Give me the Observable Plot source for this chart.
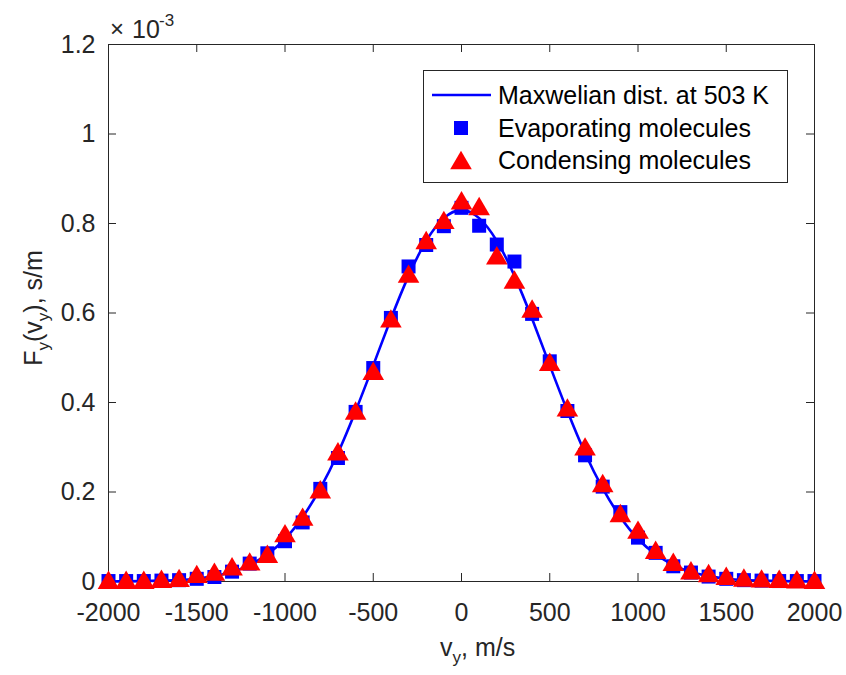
<!DOCTYPE html>
<html>
<head>
<meta charset="utf-8">
<script src="https://cdn.jsdelivr.net/npm/d3@7"></script>
<script src="https://cdn.jsdelivr.net/npm/@observablehq/plot@0.6"></script>
<style>
  html, body { margin: 0; padding: 0; background: #fff; }
  svg { display: block; }
</style>
</head>
<body>
<div id="chart"></div>
<script>
// velocity, m/s
const vy = [-2000,-1900,-1800,-1700,-1600,-1500,-1400,-1300,-1200,-1100,-1000,-900,-800,-700,-600,-500,-400,-300,-200,-100,
            0,100,200,300,400,500,600,700,800,900,1000,1100,1200,1300,1400,1500,1600,1700,1800,1900,2000];
// F_y(v_y) in units of 1e-3 s/m
const maxwell = [0.0001,0.0003,0.001,0.002,0.003,0.006,0.012,0.021,0.037,0.061,0.095,0.144,0.208,0.287,0.381,0.483,0.587,0.683,0.761,0.812,
                 0.830,0.812,0.761,0.683,0.587,0.483,0.381,0.287,0.208,0.144,0.095,0.061,0.037,0.021,0.012,0.006,0.003,0.002,0.001,0.0003,0.0001];
const evaporating = [0.001,0.001,0.001,0.002,0.003,0.006,0.010,0.022,0.040,0.063,0.090,0.132,0.207,0.276,0.379,0.477,0.589,0.704,0.752,0.794,
                     0.835,0.795,0.753,0.715,0.598,0.492,0.381,0.282,0.212,0.155,0.098,0.064,0.034,0.020,0.011,0.006,0.003,0.002,0.001,0.001,0.001];
const condensing = [0.004,0.004,0.004,0.006,0.008,0.017,0.022,0.034,0.045,0.062,0.108,0.145,0.206,0.291,0.382,0.471,0.588,0.688,0.763,0.808,
                    0.852,0.839,0.729,0.675,0.610,0.491,0.389,0.302,0.220,0.153,0.116,0.071,0.044,0.025,0.019,0.013,0.009,0.007,0.006,0.005,0.004];
const xTicks = [-2000,-1500,-1000,-500,0,500,1000,1500,2000];
const yTicks = [0,0.2,0.4,0.6,0.8,1,1.2];
const legendLabels = ["Maxwelian dist. at 503 K","Evaporating molecules","Condensing molecules"];

const rows = vy.map((v, i) => ({vy: v, maxwell: maxwell[i], evap: evaporating[i], cond: condensing[i]}));

const W = 846, H = 675;
const mT = 44, mR = 32, mB = 94, mL = 108;
const fh = H - mT - mB, fw = W - mL - mR;
const TL = 8;
const axisColor = "#262626";
const font = "'Liberation Sans', Arial, Helvetica, sans-serif";

const triangle = {
  draw(ctx, size) {
    const r = Math.sqrt(size / Math.PI);
    const hw = r * 1.35, hh = r * 1.15;
    ctx.moveTo(0, -hh);
    ctx.lineTo(hw, hh);
    ctx.lineTo(-hw, hh);
    ctx.closePath();
  }
};

const svg = Plot.plot({
  width: W, height: H,
  marginTop: mT, marginRight: mR, marginBottom: mB, marginLeft: mL,
  style: {fontFamily: font, fontSize: "25px", color: axisColor, background: "#fff"},
  x: {domain: [-2000, 2000]},
  y: {domain: [0, 1.2]},
  marks: [
    Plot.frame({stroke: axisColor, strokeWidth: 1}),
    Plot.tickX(xTicks, {x: d => d, insetTop: fh - TL, stroke: axisColor}),
    Plot.tickX(xTicks, {x: d => d, insetBottom: fh - TL, stroke: axisColor}),
    Plot.tickY(yTicks, {y: d => d, insetRight: fw - TL, stroke: axisColor}),
    Plot.tickY(yTicks, {y: d => d, insetLeft: fw - TL, stroke: axisColor}),
    Plot.axisX({ticks: xTicks, tickSize: 0, tickPadding: 22, tickFormat: d => String(d), label: null, fontSize: 25}),
    Plot.axisY({ticks: yTicks, tickSize: 0, tickPadding: 13, tickFormat: d => String(d), label: null, fontSize: 25}),
    Plot.line(rows, {x: "vy", y: "maxwell", stroke: "#0000ff", strokeWidth: 2.6, curve: "natural"}),
    Plot.dot(rows, {x: "vy", y: "evap", symbol: "square", r: 7.9, fill: "#0000ff", stroke: "none"}),
    Plot.dot(rows, {x: "vy", y: "cond", symbol: triangle, r: 8, fill: "#ff0000", stroke: "none"})
  ]
});

document.getElementById("chart").appendChild(svg);

const s = d3.select(svg);
const fs = (sel, px) => sel.style("font-size", px + "px");
const g = s.append("g").style("font-family", font).attr("fill", axisColor).attr("text-anchor", "start");

// exponent label
fs(g.append("text").attr("x", 110).attr("y", 37).attr("text-anchor", "start").text("\u00d7"), 24);
fs(g.append("text").attr("x", 132).attr("y", 38).attr("text-anchor", "start").text("10"), 25);
fs(g.append("text").attr("x", 159).attr("y", 26).attr("text-anchor", "start").text("-3"), 17);

// x label
const xl = fs(g.append("text").attr("x", 440).attr("y", 656).attr("text-anchor", "start"), 25);
xl.append("tspan").text("v");
fs(xl.append("tspan").attr("dy", 7).text("y"), 17);
xl.append("tspan").attr("dy", -7).text(", m/s");

// y label
const yl = fs(g.append("text").attr("transform", "translate(42,308) rotate(-90)").attr("text-anchor", "middle"), 25);
yl.append("tspan").text("F");
fs(yl.append("tspan").attr("dy", 7).text("y"), 17);
yl.append("tspan").attr("dy", -7).text("(v");
fs(yl.append("tspan").attr("dy", 7).text("y"), 17);
yl.append("tspan").attr("dy", -7).text("), s/m");

// legend
const lg = s.append("g").style("font-family", font).attr("text-anchor", "start");
lg.append("rect").attr("x", 423.5).attr("y", 70.5).attr("width", 364).attr("height", 112)
  .attr("fill", "#fff").attr("stroke", axisColor).attr("stroke-width", 1);
const rowsY = [95, 128, 160];
lg.append("line").attr("x1", 432).attr("x2", 491).attr("y1", rowsY[0]).attr("y2", rowsY[0])
  .attr("stroke", "#0000ff").attr("stroke-width", 2.6);
lg.append("rect").attr("x", 454).attr("y", rowsY[1] - 7).attr("width", 14).attr("height", 14).attr("fill", "#0000ff");
lg.append("path").attr("d", `M461,${rowsY[2] - 9.2}L471.8,${rowsY[2] + 9.2}L450.2,${rowsY[2] + 9.2}Z`).attr("fill", "#ff0000");
legendLabels.forEach((t, i) => {
  fs(lg.append("text").attr("x", 498).attr("y", rowsY[i]).attr("dy", "0.35em").attr("text-anchor", "start")
    .attr("fill", "#000").text(t), 25);
});
</script>
</body>
</html>
